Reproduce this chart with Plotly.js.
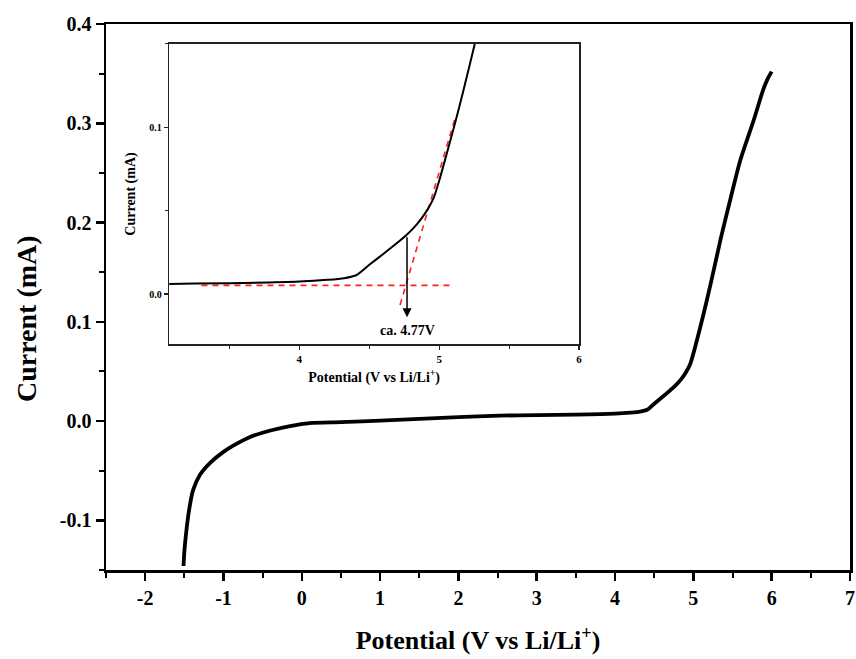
<!DOCTYPE html>
<html>
<head>
<meta charset="utf-8">
<script src="https://cdn.plot.ly/plotly-3.0.1.min.js"></script>
<style>html,body{margin:0;padding:0;background:#fff;}#chart{width:856px;height:659px;}</style>
</head>
<body>
<div id="chart"></div>
<script>
// Measured LSV curve (potential in V vs Li/Li+, current in mA)
const potential = [-1.51, -1.50, -1.47, -1.44, -1.39, -1.30, -1.17, -1.00, -0.87, -0.66, -0.40, -0.15, 0.1, 0.5, 1.0, 2.0, 2.53, 3.0, 3.5, 4.0, 4.2, 4.32, 4.41, 4.5, 4.6, 4.7, 4.77, 4.84, 4.9, 4.96, 5.0, 5.05, 5.115, 5.17, 5.26, 5.35, 5.47, 5.6, 5.77, 5.89, 5.95, 6.0];
const current = [-0.146, -0.132, -0.108, -0.090, -0.070, -0.054, -0.042, -0.031, -0.0245, -0.016, -0.0095, -0.005, -0.002, -0.001, 0.0005, 0.004, 0.0055, 0.006, 0.0065, 0.0075, 0.0085, 0.0095, 0.0114, 0.0175, 0.024, 0.0307, 0.0357, 0.0418, 0.0485, 0.0575, 0.068, 0.083, 0.103, 0.121, 0.152, 0.184, 0.2227, 0.263, 0.303, 0.3335, 0.345, 0.352];

// Tangent construction in the inset
const baselineX = [3.3, 5.1];
const baselineY = [0.0052, 0.0052];
const tangentX = [4.72, 5.115];
const tangentY = [-0.0066, 0.106];
const onsetV = 4.77;
const onsetLabel = 'ca. 4.77V';

// Tick labels
const mainXTicks = [-2, -1, 0, 1, 2, 3, 4, 5, 6, 7];
const mainXLabels = ['-2', '-1', '0', '1', '2', '3', '4', '5', '6', '7'];
const mainYTicks = [-0.1, 0.0, 0.1, 0.2, 0.3, 0.4];
const mainYLabels = ['-0.1', '0.0', '0.1', '0.2', '0.3', '0.4'];
const insetXTicks = [4, 5, 6];
const insetXLabels = ['4', '5', '6'];
const insetYTicks = [0.0, 0.1];
const insetYLabels = ['0.0', '0.1'];

const serif = 'Liberation Serif, Times New Roman, serif';

const traces = [
  {x: potential, y: current, xaxis: 'x', yaxis: 'y', mode: 'lines',
   line: {color: '#000', width: 3.8, shape: 'spline', smoothing: 0.7}},
  {x: baselineX, y: baselineY, xaxis: 'x2', yaxis: 'y2', mode: 'lines',
   line: {color: '#ff2020', width: 1.6, dash: '6px,5px'}},
  {x: tangentX, y: tangentY, xaxis: 'x2', yaxis: 'y2', mode: 'lines',
   line: {color: '#ff2020', width: 1.6, dash: '6px,5px'}},
  {x: potential, y: current, xaxis: 'x2', yaxis: 'y2', mode: 'lines',
   line: {color: '#000', width: 2, shape: 'spline', smoothing: 0.7}}
];

const layout = {
  width: 856, height: 659,
  margin: {l: 106, r: 6, t: 24, b: 89},
  paper_bgcolor: '#fff', plot_bgcolor: '#fff',
  showlegend: false,
  font: {family: serif, color: '#000'},
  xaxis: {
    range: [-2.5, 7], domain: [0, 1],
    showline: true, linewidth: 2.5, linecolor: '#000', mirror: true,
    showgrid: false, zeroline: false,
    ticks: 'outside', ticklen: 8, tickwidth: 2.5, tickcolor: '#000',
    tickvals: mainXTicks, ticktext: mainXLabels,
    minor: {dtick: 0.5, ticks: 'outside', ticklen: 5, tickwidth: 2, tickcolor: '#000'},
    tickfont: {family: serif, size: 20, weight: 'bold'},
    title: {text: 'Potential (V vs Li/Li<sup>+</sup>)', font: {family: serif, size: 26, weight: 'bold'}, standoff: 24}
  },
  yaxis: {
    range: [-0.15, 0.4], domain: [0, 1],
    showline: true, linewidth: 2.5, linecolor: '#000', mirror: true,
    showgrid: false, zeroline: false,
    ticks: 'outside', ticklen: 8, tickwidth: 2.5, tickcolor: '#000',
    tickvals: mainYTicks, ticktext: mainYLabels,
    minor: {dtick: 0.05, ticks: 'outside', ticklen: 5, tickwidth: 2, tickcolor: '#000'},
    tickfont: {family: serif, size: 20, weight: 'bold'}
  },
  xaxis2: {
    anchor: 'y2', domain: [0.0851, 0.6358],
    range: [3.07, 6],
    showline: true, linewidth: 1.5, linecolor: '#222', mirror: true,
    showgrid: false, zeroline: false,
    ticks: 'outside', ticklen: 4, tickwidth: 1.2, tickcolor: '#222',
    tickvals: insetXTicks, ticktext: insetXLabels,
    minor: {dtick: 0.5, ticks: 'outside', ticklen: 3, tickwidth: 1, tickcolor: '#222'},
    tickfont: {family: serif, size: 11, weight: 'bold'},
    title: {text: 'Potential (V vs Li/Li<sup>+</sup>)', font: {family: serif, size: 14, weight: 'bold'}, standoff: 8}
  },
  yaxis2: {
    anchor: 'x2', domain: [0.4139, 0.9634],
    range: [-0.03, 0.15],
    showline: true, linewidth: 1.5, linecolor: '#222', mirror: true,
    showgrid: false, zeroline: false,
    ticks: 'outside', ticklen: 4, tickwidth: 1.2, tickcolor: '#222',
    tickvals: insetYTicks, ticktext: insetYLabels,
    minor: {dtick: 0.05, ticks: 'outside', ticklen: 3, tickwidth: 1, tickcolor: '#222'},
    tickfont: {family: serif, size: 10, weight: 'bold'},
    title: {text: 'Current (mA)', font: {family: serif, size: 14, weight: 'bold'}, standoff: 10}
  },
  annotations: [
    {xref: 'paper', yref: 'paper', x: -0.1075, y: 0.4597, textangle: -90,
     xanchor: 'center', yanchor: 'middle', showarrow: false,
     text: 'Current (mA)', font: {family: serif, size: 28, weight: 'bold', color: '#000'}},
    {xref: 'x2', yref: 'y2', axref: 'x2', ayref: 'y2',
     x: onsetV, y: -0.014, ax: onsetV, ay: 0.035,
     text: '', showarrow: true, arrowhead: 2, arrowsize: 1.2, arrowwidth: 1.5, arrowcolor: '#000'},
    {xref: 'x2', yref: 'y2', x: onsetV, y: -0.0216, text: onsetLabel, showarrow: false,
     font: {family: serif, size: 14, weight: 'bold', color: '#000'}}
  ]
};

Plotly.newPlot('chart', traces, layout, {displayModeBar: false, staticPlot: true});
</script>
</body>
</html>
